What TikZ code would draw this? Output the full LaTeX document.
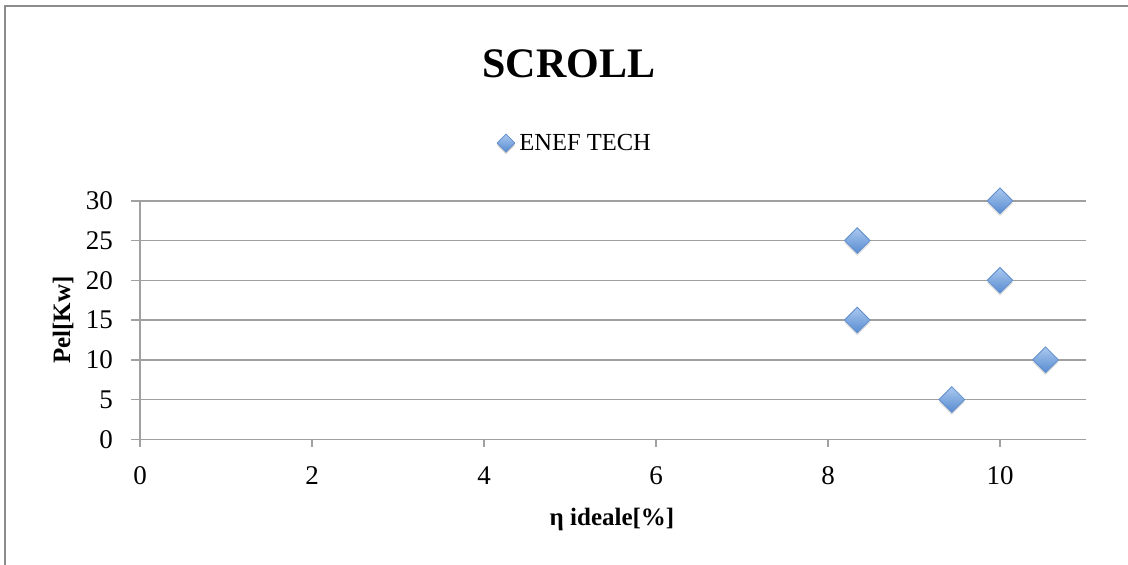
\documentclass[tikz,border=0pt]{standalone}
\usepackage{fontspec}
\setmainfont{Liberation Serif}
\usetikzlibrary{shapes.geometric,shadows}
\definecolor{framec}{RGB}{140,140,140}
\definecolor{gridc}{RGB}{160,160,160}
\definecolor{ptop}{RGB}{170,200,238}
\definecolor{pbot}{RGB}{88,140,210}
\definecolor{pedge}{RGB}{96,142,204}
\tikzset{
  pt/.style={diamond, inner sep=0pt, minimum width=26pt, minimum height=26pt, aspect=1,
    draw=pedge, line width=0.8pt, top color=ptop, bottom color=pbot,
    drop shadow={shadow xshift=0pt, shadow yshift=-2.5pt, opacity=0.25}},
  legpt/.style={pt, minimum width=18pt, minimum height=18pt,
    drop shadow={shadow xshift=0pt, shadow yshift=-1.5pt, opacity=0.25}},
  gridline/.style={draw=gridc, line width=1.5pt},
  ticklab/.style={font=\fontsize{27}{32}\selectfont, inner sep=0pt},
  axlab/.style={font=\fontsize{25}{30}\selectfont\bfseries, inner sep=0pt},
}
\begin{document}
\begin{tikzpicture}[x=1pt,y=1pt]
\useasboundingbox (0,0) rectangle (1128,565);
\fill[white] (0,0) rectangle (1128,565);
% outer frame (left and top edges visible)
\draw[framec, line width=2pt] (5,-5) -- (5,559) -- (1135,559);
% title
\node[font=\fontsize{42}{48}\selectfont\bfseries, inner sep=0pt] (title) at (569,501) {SCROLL};
% legend
\node[legpt] (legmark) at (506,422) {};
\node[font=\fontsize{24.5}{28}\selectfont, inner sep=0pt, anchor=east] (legtext) at (651,422) {ENEF TECH};
\begin{scope}[shift={(140pt,125.7pt)}, x=86pt, y=7.95pt]
  % grid lines
  \foreach \v in {0,5,...,30} {
    \draw[gridline] (-9pt,\v) -- (11,\v);
    \node[ticklab, anchor=east] (yl\v) at ([xshift=-27pt]0,\v) {\v};
  }
  % y axis
  \draw[gridline] (0,30) -- (0,0) -- ++(0,-8pt);
  % x ticks
  \foreach \u in {0,2,...,10} {
    \draw[gridline] (\u,0) -- ++(0,-8pt);
    \node[ticklab] (xl\u) at ([yshift=-36.5pt]\u,0) {\u};
  }
  % data points
  \node[pt] (p1) at (10,30) {};
  \node[pt] (p2) at (8.34,25) {};
  \node[pt] (p3) at (10,20) {};
  \node[pt] (p4) at (8.34,15) {};
  \node[pt] (p5) at (10.53,10) {};
  \node[pt] (p6) at (9.44,5) {};
\end{scope}
% axis titles
\node[axlab, rotate=90] (ylab) at (63,245) {Pel[Kw]};
\node[axlab] (xlab) at (612,46) {η ideale[\%]};
\end{tikzpicture}
\end{document}
